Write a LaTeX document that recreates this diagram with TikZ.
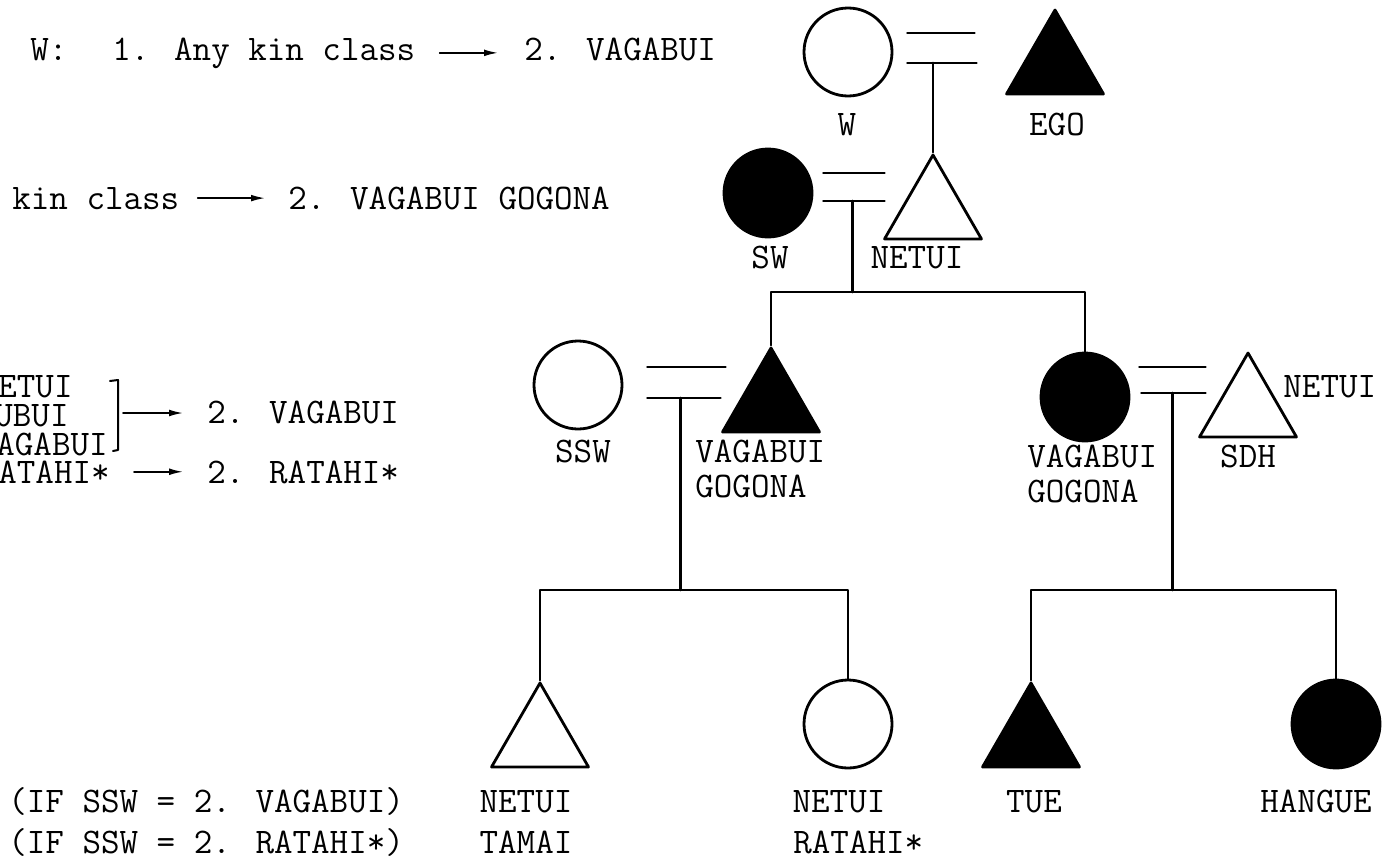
\documentclass[tikz,border=0pt]{standalone}
\usepackage{fontspec}
\usetikzlibrary{shapes.geometric,arrows.meta}

\begin{document}
\begin{tikzpicture}[x=0.5pt,y=-0.5pt,line cap=round,line join=round,
  woman/.style={circle,draw,line width=1.4pt,minimum size=44pt,inner sep=0pt},
  man/.style={regular polygon,regular polygon sides=3,draw,line width=1.4pt,minimum size=56pt,inner sep=0pt},
  marked/.style={fill=black},
  kin/.style={font=\ttfamily\fontsize{18}{17.5}\selectfont,inner sep=0pt,align=left},
  tie/.style={line width=1.4pt},
  rule/.style={-{Latex[length=7pt,width=3.4pt]},line width=0.8pt}]

  \useasboundingbox (0,0) rectangle (1385,862);

  % rules for choosing the term
  \node[kin,anchor=base west] (wa) at (30,60) {W:};
  \node[kin,anchor=base west] (wb) at (112,60) {1. Any kin class};
  \node[kin,anchor=base west] (wc) at (524,60) {2. VAGABUI};
  \draw[rule,shorten <=12pt,shorten >=13pt] (wb.east) -- (wb.east -| wc.west);

  \node[kin,anchor=base west] (ha) at (12,209) {kin class};
  \node[kin,anchor=base west] (hb) at (288,209) {2. VAGABUI GOGONA};
  \draw[rule,shorten <=9pt,shorten >=11.5pt] (ha.east) -- (ha.east -| hb.west);

  \node[kin,anchor=base west] (sa) at (-2,397) {ETUI};
  \node[kin,anchor=base west] (sb) at (-6,426) {UBUI};
  \node[kin,anchor=base west] (sc) at (-4,455) {AGABUI};
  \node[kin,anchor=base west] (sd) at (-2,483) {ATAHI*};
  \draw[line width=1pt] (110,381) -- (118,380) -- (118,450) -- (113,451);
  \coordinate (brk) at (118,413);
  \node[kin,anchor=base west] (se) at (207,423) {2. VAGABUI};
  \node[kin,anchor=base west] (sf) at (207,483) {2. RATAHI*};
  \draw[rule,shorten <=2.5pt,shorten >=12pt] (brk) -- (brk -| se.west);
  \draw[rule,shorten <=12pt,shorten >=12pt] (sd.east) -- (sd.east -| sf.west);

  \node[kin,anchor=base west] (ca) at (8,812) {(IF SSW = 2. VAGABUI)};
  \node[kin,anchor=base west] (cb) at (8,853) {(IF SSW = 2. RATAHI*)};

  % first generation
  \node[woman] (w) at (848,52) {};
  \node[man,marked] (ego) at (1055,66) {};
  \node[kin,anchor=base] (wl) at (847,135) {W};
  \node[kin,anchor=base] (egol) at (1057,135) {EGO};

  % son and his wife
  \node[woman,marked] (sw) at (768,193) {};
  \node[man] (netuia) at (933,211) {};
  \node[kin,anchor=base] (swl) at (770,268) {SW};
  \node[kin,anchor=base] (netuial) at (917,268) {NETUI};

  % grandchildren and spouses
  \node[woman] (ssw) at (578,385) {};
  \node[man,marked] (vgm) at (771,404) {};
  \node[woman,marked] (vgf) at (1085,397) {};
  \node[man] (sdh) at (1248,409) {};
  \node[kin,anchor=base] (sswl) at (583,462) {SSW};
  \node[kin,anchor=base west] (vgml) at (695,497) {VAGABUI\\GOGONA};
  \node[kin,anchor=base west] (vgfl) at (1027,502) {VAGABUI\\GOGONA};
  \node[kin,anchor=base] (sdhl) at (1248,467) {SDH};
  \node[kin,anchor=base west] (sdhn) at (1283,397) {NETUI};

  % great-grandchildren
  \node[man] (netuib) at (540,739) {};
  \node[woman] (ratahi) at (848,724) {};
  \node[man,marked] (tue) at (1031,739) {};
  \node[woman,marked] (hangue) at (1336,724) {};
  \node[kin,anchor=base] (netuibl) at (526,812) {NETUI};
  \node[kin,anchor=base] (tamai) at (526,853) {TAMAI};
  \node[kin,anchor=base] (ratahil) at (839,812) {NETUI};
  \node[kin,anchor=base west] (ratahim) at (793,853) {RATAHI*};
  \node[kin,anchor=base] (tuel) at (1034,812) {TUE};
  \node[kin,anchor=base] (hanguel) at (1316,812) {HANGUE};

  % W = EGO
  \draw[tie] ([shift={(14,-19)}]w.east) -- ++(67,0);
  \draw[tie] ([shift={(14,11)}]w.east) coordinate (wed1) -- ++(69,0);
  \draw[tie] (netuia.corner 1) -- (netuia.corner 1 |- wed1);

  % SW = NETUI
  \draw[tie] ([shift={(10,-20)}]sw.east) -- ++(61,0);
  \draw[tie] ([shift={(10,8)}]sw.east) coordinate (wed2) -- ++(61,0);
  \draw[tie] ([shift={(29,0)}]wed2) -- ++(0,91) coordinate (sib1);
  \draw[tie] (vgm.corner 1) |- (sib1) -| (vgf.north);

  % SSW = VAGABUI
  \draw[tie] ([shift={(24,-18)}]ssw.east) -- ++(78,0);
  \draw[tie] ([shift={(24,13)}]ssw.east) coordinate (wed3) -- ++(73,0);
  \draw[tie] ([shift={(33,0)}]wed3) -- ++(0,192) coordinate (sib2);
  \draw[tie] (netuib.corner 1) |- (sib2) -| (ratahi.north);

  % VAGABUI = SDH
  \draw[tie] ([shift={(9,-30)}]vgf.east) -- ++(66,0);
  \draw[tie] ([shift={(11,-4)}]vgf.east) coordinate (wed4) -- ++(64,0);
  \draw[tie] ([shift={(31,0)}]wed4) -- ++(0,197) coordinate (sib3);
  \draw[tie] (tue.corner 1) |- (sib3) -| (hangue.north);
\end{tikzpicture}
\end{document}
